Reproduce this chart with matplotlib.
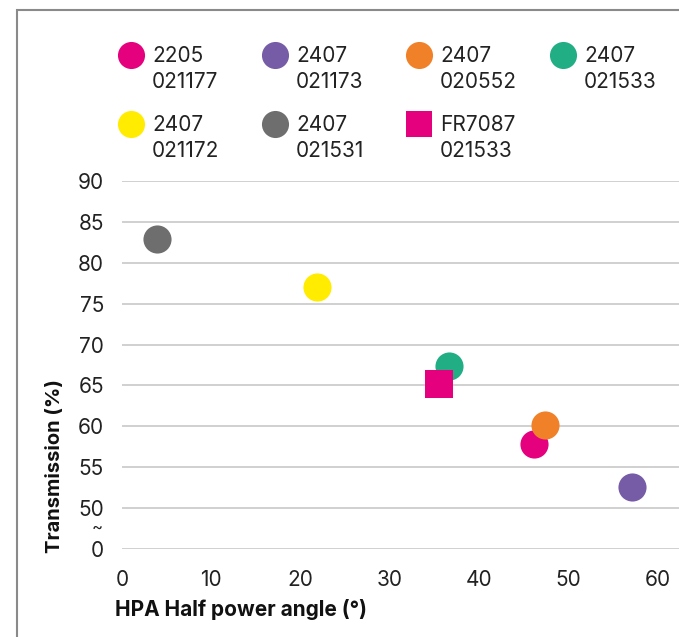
import matplotlib.pyplot as plt
from matplotlib.patches import Rectangle
from matplotlib.lines import Line2D

plt.rcParams['font.family'] = ['Inter', 'DejaVu Sans']

# data
labels = ["2205\n021177", "2407\n021173", "2407\n020552", "2407\n021533",
          "2407\n021172", "2407\n021531", "FR7087\n021533"]
hpa = [46.2, 57.1, 47.4, 36.6, 21.9, 3.9, 35.5]
transmission = [57.8, 52.6, 60.2, 67.4, 77.0, 82.9, 65.2]
colors = ["#E5007D", "#765BA6", "#F08129", "#22AE84", "#FFEC00", "#6E6E6E", "#E5007D"]
markers = ["o", "o", "o", "o", "o", "o", "s"]

y_ticks = [45, 50, 55, 60, 65, 70, 75, 80, 85, 90]
y_ticklabels = ["0", "50", "55", "60", "65", "70", "75", "80", "85", "90"]
x_ticks = [0, 10, 20, 30, 40, 50, 60]

W, H = 679, 637
fig = plt.figure(figsize=(W / 100, H / 100), dpi=100)
ax = fig.add_axes([122 / W, 1 - 549 / H, (W - 122) / W, (549 - 181) / H])

for x, y, c, m in zip(hpa, transmission, colors, markers):
    ax.scatter(x, y, s=410 if m == "o" else 400, c=c, marker=m, linewidths=0, zorder=3)

ax.set_xlim(0, 62.4)
ax.set_ylim(45, 90)
ax.set_yticks(y_ticks)
ax.set_yticklabels(y_ticklabels)
ax.set_xticks(x_ticks)
ax.grid(axis='y', color='#c8c8c8', linewidth=1.2)
for s in ax.spines.values():
    s.set_visible(False)
ax.tick_params(length=0, labelsize=15, colors='#222222')
ax.tick_params(axis='y', pad=13)
ax.tick_params(axis='x', pad=15)
# axis break mark between 0 and 50
ax.text(-0.045, 47.6, "~", transform=ax.get_yaxis_transform(), ha='center', va='center',
        fontsize=12, color='#222222')

fig.text(55 / W, 1 - 466 / H, "Transmission (%)", rotation=90, ha='center', va='center',
         fontsize=14.5, fontweight='bold', color='#111111')
fig.text(115 / W, 1 - 609 / H, "HPA Half power angle (°)", ha='left', va='center',
         fontsize=15, fontweight='bold', color='#111111')

# manual legend: 4 columns, marker aligned with first label line
for i, (lab, c, m) in enumerate(zip(labels, colors, markers)):
    col, row = i % 4, i // 4
    mx = (131 + 144 * col) / W
    my = 1 - (55 + 69 * row) / H
    fig.add_artist(Line2D([mx], [my], marker=m, markersize=19.5 if m == "o" else 19,
                          color=c, markeredgewidth=0, linestyle='none'))
    fig.text(mx + 21 / W, my + 9 / H, lab, ha='left', va='top', fontsize=15,
             color='#222222', linespacing=1.38)

# gray frame cropped at the right and bottom
fig.add_artist(Rectangle((17 / W, -0.1), 1.2, 1.1 - 10 / H, transform=fig.transFigure,
                         fill=False, edgecolor='#8a8a8a', linewidth=1.5))

fig.savefig("out.png", dpi=100)
